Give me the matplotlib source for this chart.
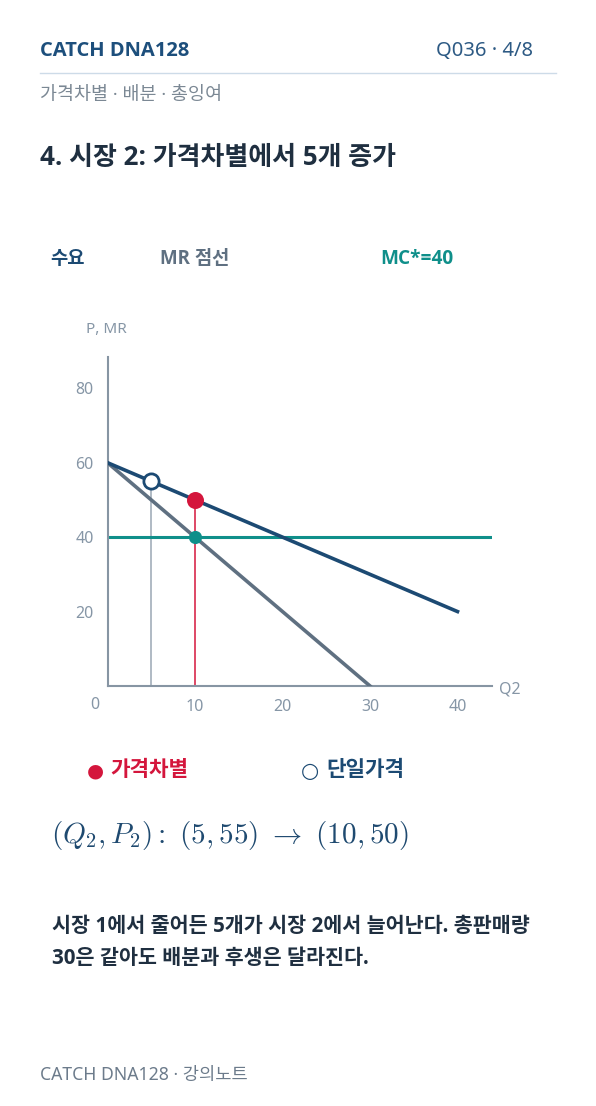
import matplotlib
matplotlib.use("Agg")
import matplotlib.pyplot as plt
from matplotlib.lines import Line2D
import numpy as np

FAM = ['Noto Sans', 'Noto Sans CJK KR', 'DejaVu Sans']
BFAM = ['Open Sans', 'Noto Sans CJK KR', 'DejaVu Sans']
plt.rcParams['font.family'] = FAM
plt.rcParams['mathtext.fontset'] = 'cm'

# ---- data ----
demand_q = [0, 40]
demand_p = [60, 20]
mr_q = [0, 30]
mr_p = [60, 0]
mc_q = [0, 44]
mc_p = [40, 40]
single_q, single_p = 5, 55
disc_q, disc_p = 10, 50
mc_level = 40
x_ticks = [10, 20, 30, 40]
y_ticks = [20, 40, 60, 80]

NAVY = '#1c4a73'
GRAY = '#5f7081'
TEAL = '#0f8f8a'
RED = '#d4163c'
DARK = '#1f2f40'
AXIS = '#8795a3'
LIGHT = '#8696a6'

W, H = 596, 1106
fig = plt.figure(figsize=(W / 100, H / 100), dpi=100)
fig.patch.set_facecolor('white')

def fy(y):
    return 1 - y / H

def fx(x):
    return x / W

# header
fig.text(fx(40), fy(51), 'CATCH DNA128', fontsize=14.5, fontweight='bold', color='#1d4f7c', va='center', ha='left', family=BFAM)
fig.text(fx(533), fy(51), 'Q036 · 4/8', fontsize=14.5, color='#2d5a84', va='center', ha='right')
fig.add_artist(Line2D([fx(40), fx(556)], [fy(73), fy(73)], color='#cddbe8', lw=1))
fig.text(fx(40), fy(95), '가격차별 · 배분 · 총잉여', fontsize=13.3, color='#7b8894', va='center', ha='left')
fig.text(fx(40), fy(158), '4. 시장 2: 가격차별에서 5개 증가', fontsize=18.7, fontweight='bold', color=DARK, va='center', ha='left', family=BFAM)

# top legend
fig.text(fx(50), fy(259), '수요', fontsize=13.5, fontweight='bold', color=NAVY, va='center', ha='left', family=BFAM)
fig.text(fx(160), fy(259), 'MR 점선', fontsize=13.5, fontweight='bold', color=GRAY, va='center', ha='left', family=BFAM)
fig.text(fx(380), fy(259), 'MC*=40', fontsize=13.7, fontweight='bold', color=TEAL, va='center', ha='left', family=BFAM)

# axes
x0px, x1px = 107.5, 492.5
ytop, ybot = 357, 686
ax = fig.add_axes([fx(x0px), fy(ybot), (x1px - x0px) / W, (ybot - ytop) / H])
ax.set_xlim(0, 44)
ax.set_ylim(0, 88.4)
ax.set_facecolor('none')
for s in ['top', 'right']:
    ax.spines[s].set_visible(False)
for s in ['left', 'bottom']:
    ax.spines[s].set_color(AXIS)
    ax.spines[s].set_linewidth(1.5)
ax.set_xticks(x_ticks)
ax.set_yticks(y_ticks)
ax.tick_params(length=0, labelsize=11.5, labelcolor=LIGHT)
ax.tick_params(axis='x', pad=9.5)
ax.tick_params(axis='y', pad=10)

ax.plot(mc_q, mc_p, color=TEAL, lw=2.2, solid_capstyle='butt', zorder=2)
ax.plot(mr_q, mr_p, color=GRAY, lw=2.6, zorder=3)
ax.plot(demand_q, demand_p, color=NAVY, lw=2.6, zorder=4)
ax.plot([single_q, single_q], [0, single_p], color='#9aa7b4', lw=1.1, zorder=1)
ax.plot([disc_q, disc_q], [0, disc_p], color=RED, lw=1.1, zorder=1)
ax.scatter([disc_q], [mc_level], s=90, color=TEAL, zorder=6, linewidths=0)
ax.scatter([disc_q], [disc_p], s=150, color=RED, zorder=6, linewidths=0)
ax.scatter([single_q], [single_p], s=120, facecolor='white', edgecolor=NAVY, linewidths=2, zorder=6)

ax.text(-1.4, -5.2, '0', fontsize=11.5, color=LIGHT, ha='center', va='center', clip_on=False)
fig.text(fx(499), fy(689), 'Q2', fontsize=11.5, color=LIGHT, va='center', ha='left')
fig.text(fx(86), fy(330), 'P, MR', fontsize=11, color=LIGHT, va='center', ha='left')

# bottom legend
fig.text(fx(95), fy(771), '●', fontsize=14, color=RED, va='center', ha='center', family=['DejaVu Sans'])
fig.text(fx(110), fy(771), '가격차별', fontsize=15.3, fontweight='bold', color=RED, va='center', ha='left', family=BFAM)
fig.text(fx(310), fy(771), '○', fontsize=15, color=NAVY, va='center', ha='center', family=['DejaVu Sans'])
fig.text(fx(326), fy(771), '단일가격', fontsize=15.3, fontweight='bold', color=NAVY, va='center', ha='left', family=BFAM)

# formula
fig.text(fx(51), fy(836), r'$(Q_2, P_2):\ (5, 55)\ \rightarrow\ (10, 50)$', fontsize=21, color='#1f4a70', va='center', ha='left')

# body
fig.text(fx(52), fy(926), '시장 1에서 줄어든 5개가 시장 2에서 늘어난다. 총판매량', fontsize=14.9, fontweight='bold', color=DARK, va='center', ha='left', family=BFAM)
fig.text(fx(52), fy(958), '30은 같아도 배분과 후생은 달라진다.', fontsize=14.9, fontweight='bold', color=DARK, va='center', ha='left', family=BFAM)

# footer
fig.text(fx(40), fy(1075), 'CATCH DNA128 · 강의노트', fontsize=12.7, color='#6c7b8b', va='center', ha='left')

fig.savefig('out.png', dpi=100, facecolor='white')
